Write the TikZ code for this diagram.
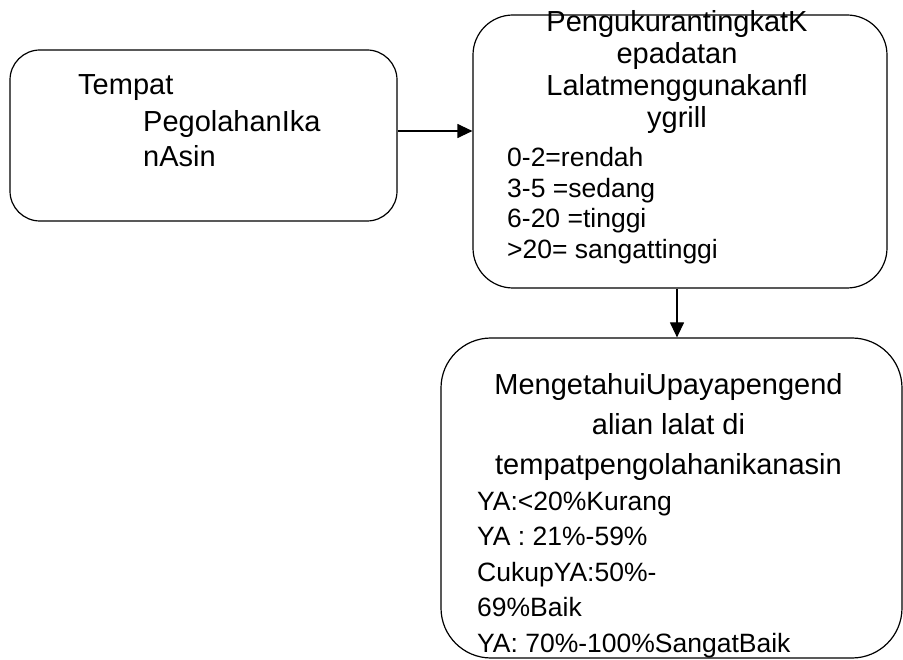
\documentclass[tikz,border=0pt]{standalone}
\usepackage{fontspec}
\setmainfont{Liberation Sans}
\usetikzlibrary{arrows.meta}

\newcommand{\hurufbesar}{\fontsize{29}{33}\selectfont}
\newcommand{\hurufkecil}{\fontsize{26.5}{30}\selectfont}

\tikzset{
	kotak/.style={draw, line width=1.2pt, rounded corners=#1, inner sep=0pt},
	besar/.style={inner sep=0pt, font=\hurufbesar},
	kecil/.style={inner sep=0pt, font=\hurufkecil},
	panah/.style={line width=1.2pt, -{Triangle[length=15pt,width=14pt]}}
}

\begin{document}
\begin{tikzpicture}[x=1pt, y=-1pt]

	\useasboundingbox (0,0) rectangle (903,660);

% Kotak
	\node[kotak=30pt, minimum width=387pt, minimum height=171pt] (tempat) at (203.5,135.5) {};
	\node[kotak=40pt, minimum width=414pt, minimum height=273pt] (ukur) at (680,151.5) {};
	\node[kotak=50pt, minimum width=461pt, minimum height=320pt] (upaya) at (671.5,498) {};

% Tempat pengolahan
	\node[besar, anchor=base west] (tempat-0) at (78,95) {Tempat};
	\foreach \t [count=\i from 1] in {PegolahanIka, nAsin}
		\node[besar, anchor=base west] (tempat-\i) at (143,96+35.5*\i) {\t};

% Pengukuran
	\foreach \t [count=\i from 0] in {PengukurantingkatK, epadatan, Lalatmenggunakanfl, ygrill}
		\node[besar, anchor=base] (judul-\i) at (677,32+32*\i) {\t};

	\foreach \t [count=\i from 0] in {0-2=rendah, 3-5 =sedang, 6-20 =tinggi, >20= sangattinggi}
		\node[kecil, anchor=base west] (nilai-\i) at (507,167+30.5*\i) {\t};

% Upaya pengendalian
	\foreach \t [count=\i from 0] in {MengetahuiUpayapengend, alian lalat di, tempatpengolahanikanasin}
		\node[besar, anchor=base] (upaya-\i) at (668.5,395+40*\i) {\t};

	\foreach \t [count=\i from 0] in {YA:<20\%Kurang, YA : 21\%-59\%, CukupYA:50\%-, 69\%Baik, YA: 70\%-100\%SangatBaik}
		\node[kecil, anchor=base west] (skor-\i) at (477,510+35.5*\i) {\t};

% Panah
	\draw[panah] ([yshift=4.5pt]tempat.east) -- ([yshift=4.5pt]tempat.east -| ukur.west);
	\draw[panah] ([xshift=-3pt]ukur.south) -- ([xshift=-3pt]ukur.south |- upaya.north);

\end{tikzpicture}
\end{document}
